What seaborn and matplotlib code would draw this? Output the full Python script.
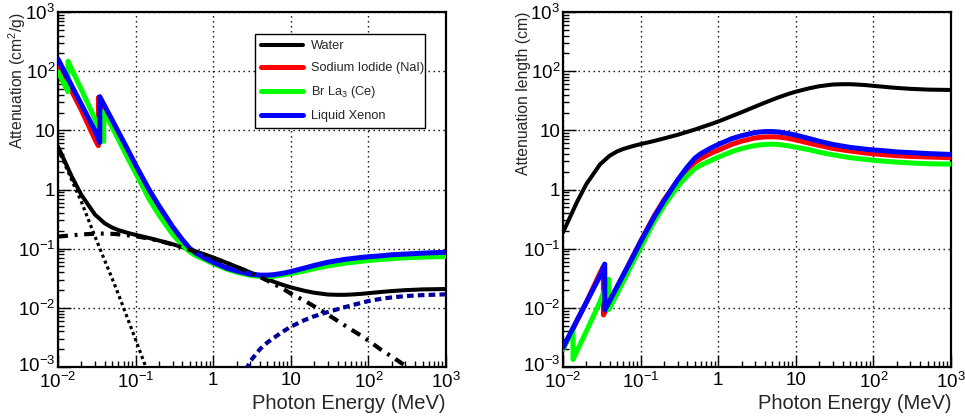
import matplotlib
matplotlib.use("Agg")
import matplotlib.pyplot as plt
import matplotlib.transforms as mtransforms
import seaborn as sns
from matplotlib.ticker import LogLocator, NullFormatter

# ---------------- data ----------------
# Water: total mass attenuation (cm2/g) and attenuation length (cm)
energy_water = [0.01, 0.015, 0.02, 0.03, 0.04, 0.05, 0.06, 0.08, 0.1, 0.15, 0.2, 0.3, 0.4, 0.5,
                0.6, 0.8, 1, 1.25, 1.5, 2, 3, 4, 5, 6, 8, 10, 15, 20, 30, 40, 50, 60, 80, 100,
                150, 200, 300, 500, 1000]
mu_water = [5.33, 1.67, 0.810, 0.376, 0.268, 0.227, 0.206, 0.184, 0.171, 0.151, 0.137, 0.119,
            0.106, 0.0969, 0.0896, 0.0787, 0.0707, 0.0632, 0.0575, 0.0494, 0.0397, 0.0340,
            0.0303, 0.0277, 0.0243, 0.0222, 0.0194, 0.0180, 0.0168, 0.0166, 0.0166, 0.0168,
            0.0172, 0.0177, 0.0186, 0.0192, 0.0199, 0.0205, 0.0208]
len_water = [0.188, 0.599, 1.235, 2.66, 3.73, 4.41, 4.85, 5.43, 5.85, 6.62, 7.30, 8.40, 9.43,
             10.3, 11.2, 12.7, 14.1, 15.8, 17.4, 20.2, 25.2, 29.4, 33.0, 36.1, 41.2, 45.0,
             51.5, 55.6, 59.5, 60.2, 60.2, 59.5, 58.1, 56.5, 53.8, 52.1, 50.3, 48.8, 48.1]

# Water components (left panel)
energy_photo = [0.01, 0.015, 0.02, 0.03, 0.04, 0.05, 0.06, 0.08, 0.1, 0.15, 0.2]
mu_photo_water = [4.9, 1.45, 0.62, 0.16, 0.063, 0.031, 0.017, 0.0063, 0.0029, 0.0007, 0.00026]

energy_compton = [0.01, 0.015, 0.02, 0.03, 0.04, 0.05, 0.06, 0.08, 0.1, 0.15, 0.2, 0.3, 0.5,
                  0.8, 1, 1.5, 2, 3, 4, 5, 6, 8, 10, 15, 20, 30, 50, 80, 100, 150, 200, 300,
                  500, 1000]
mu_compton_water = [0.160, 0.168, 0.174, 0.179, 0.180, 0.178, 0.175, 0.168, 0.162, 0.148,
                    0.136, 0.118, 0.0955, 0.0776, 0.0700, 0.0571, 0.0490, 0.0392, 0.0333,
                    0.0288, 0.0255, 0.0209, 0.0174, 0.0132, 0.0106, 0.0077, 0.0050, 0.0034,
                    0.0028, 0.0019, 0.0015, 0.00105, 0.00068, 0.00036]

energy_pair = [2, 3, 4, 5, 6, 8, 10, 15, 20, 30, 50, 80, 100, 150, 200, 300, 500, 1000]
mu_pair_water = [0.00042, 0.00125, 0.0020, 0.0026, 0.0031, 0.0040, 0.0048, 0.0062, 0.0072,
                 0.0085, 0.0103, 0.0121, 0.0130, 0.0143, 0.0150, 0.0158, 0.0164, 0.0169]

# Sodium iodide
energy_nai = [0.01, 0.015, 0.02, 0.03, 0.0331, 0.0332, 0.04, 0.05, 0.06, 0.08, 0.1, 0.15, 0.2,
              0.3, 0.4, 0.5, 0.6, 0.8, 1, 1.5, 2, 3, 4, 5, 6, 8, 10, 15, 20, 30, 50, 80, 100,
              150, 200, 300, 500, 1000]
mu_nai = [137, 46, 22, 7.0, 5.5, 36, 22, 12.3, 7.7, 3.6, 2.05, 0.76, 0.41, 0.195, 0.124, 0.095,
          0.081, 0.067, 0.059, 0.047, 0.0415, 0.0365, 0.0352, 0.035, 0.0354, 0.0372, 0.0395,
          0.045, 0.049, 0.055, 0.061, 0.066, 0.068, 0.071, 0.073, 0.075, 0.077, 0.079]
len_nai = [0.00199, 0.00592, 0.0124, 0.0389, 0.0495, 0.00757, 0.0124, 0.0222, 0.0354, 0.0757,
           0.133, 0.359, 0.665, 1.40, 2.20, 2.87, 3.36, 4.07, 4.62, 5.80, 6.57, 7.46, 7.74,
           7.78, 7.70, 7.32, 6.90, 6.05, 5.56, 4.95, 4.47, 4.13, 4.01, 3.84, 3.73, 3.63, 3.54,
           3.45]

# LaBr3 (Ce)
energy_labr = [0.01, 0.0134, 0.01348, 0.015, 0.02, 0.03, 0.0388, 0.0389, 0.04, 0.05, 0.06,
               0.08, 0.1, 0.15, 0.2, 0.3, 0.4, 0.5, 0.6, 0.8, 1, 1.5, 2, 3, 4, 5, 6, 8, 10, 15,
               20, 30, 50, 80, 100, 150, 200, 300, 500, 1000]
mu_labr = [98, 45, 147, 108, 49, 15.5, 6.5, 21, 19.6, 11.2, 7.0, 3.3, 1.9, 0.68, 0.37, 0.175,
           0.115, 0.088, 0.076, 0.064, 0.056, 0.045, 0.040, 0.0355, 0.0340, 0.0337, 0.0342,
           0.036, 0.038, 0.042, 0.046, 0.051, 0.057, 0.061, 0.063, 0.066, 0.068, 0.070, 0.072,
           0.0735]
len_labr = [0.00201, 0.00437, 0.00134, 0.00182, 0.00402, 0.0127, 0.0303, 0.00937, 0.0100,
            0.0176, 0.0281, 0.0597, 0.104, 0.290, 0.532, 1.125, 1.71, 2.24, 2.59, 3.08, 3.52,
            4.37, 4.92, 5.55, 5.79, 5.84, 5.76, 5.47, 5.18, 4.69, 4.28, 3.86, 3.45, 3.23, 3.12,
            2.98, 2.90, 2.81, 2.73, 2.68]

# Liquid xenon
energy_xe = [0.01, 0.015, 0.02, 0.03, 0.0345, 0.0346, 0.04, 0.05, 0.06, 0.08, 0.1, 0.15, 0.2,
             0.3, 0.4, 0.5, 0.6, 0.8, 1, 1.5, 2, 3, 4, 5, 6, 8, 10, 15, 20, 30, 50, 80, 100,
             150, 200, 300, 500, 1000]
mu_xe = [160, 57, 27.5, 9.8, 6.2, 37, 25.7, 14.8, 9.4, 4.6, 2.6, 0.98, 0.53, 0.235, 0.142,
         0.101, 0.084, 0.068, 0.059, 0.047, 0.042, 0.037, 0.0357, 0.0357, 0.0363, 0.0385,
         0.041, 0.047, 0.052, 0.059, 0.066, 0.071, 0.073, 0.076, 0.079, 0.081, 0.084, 0.087]
len_xe = [0.00213, 0.00597, 0.0124, 0.0347, 0.0549, 0.00919, 0.0132, 0.0230, 0.0362, 0.0740,
          0.131, 0.347, 0.642, 1.45, 2.40, 3.37, 4.05, 5.00, 5.77, 7.24, 8.10, 9.19, 9.53,
          9.53, 9.37, 8.83, 8.30, 7.24, 6.54, 5.77, 5.15, 4.79, 4.66, 4.48, 4.31, 4.20, 4.05,
          3.91]

series_labels = ["Water", "Sodium Iodide (NaI)", "Br La$_{3}$ (Ce)", "Liquid Xenon"]
series_colors = ["#000000", "#ff0000", "#00ff00", "#0000ff"]

x_tick_values = [1e-2, 1e-1, 1, 10, 1e2, 1e3]
x_tick_labels = ["$10^{-2}$", "$10^{-1}$", "1", "10", "$10^{2}$", "$10^{3}$"]
y_tick_values = [1e-3, 1e-2, 1e-1, 1, 10, 1e2, 1e3]
y_tick_labels = ["$10^{-3}$", "$10^{-2}$", "$10^{-1}$", "1", "10", "$10^{2}$", "$10^{3}$"]

# ---------------- style ----------------
sns.set_theme(style="white")
plt.rcParams["font.family"] = ["Liberation Sans", "DejaVu Sans"]
plt.rcParams["mathtext.fontset"] = "custom"
plt.rcParams["mathtext.rm"] = "Liberation Sans"
plt.rcParams["mathtext.it"] = "Liberation Sans:italic"
plt.rcParams["mathtext.bf"] = "Liberation Sans:bold"
plt.rcParams["mathtext.default"] = "regular"

fig = plt.figure(figsize=(9.65, 4.17), dpi=100, facecolor="white")
axL = fig.add_axes([58 / 965, 50 / 417, 388 / 965, 355 / 417])
axR = fig.add_axes([563 / 965, 50 / 417, 388 / 965, 355 / 417])


def style_axes(ax):
    ax.set_xscale("log")
    ax.set_yscale("log")
    ax.set_xlim(1e-2, 1e3)
    ax.set_ylim(1e-3, 1e3)
    ax.set_facecolor("white")
    ax.set_xticks(x_tick_values, labels=x_tick_labels)
    ax.set_yticks(y_tick_values, labels=y_tick_labels)
    ax.xaxis.set_minor_locator(LogLocator(base=10, subs=range(2, 10), numticks=20))
    ax.yaxis.set_minor_locator(LogLocator(base=10, subs=range(2, 10), numticks=20))
    ax.xaxis.set_minor_formatter(NullFormatter())
    ax.yaxis.set_minor_formatter(NullFormatter())
    ax.tick_params(which="both", direction="in", top=False, right=False, left=True,
                   bottom=True, color="black", width=1.0, labelsize=13.5, labelcolor="black")
    ax.tick_params(which="major", length=9)
    ax.tick_params(which="minor", length=4.5)
    ax.tick_params(axis="x", which="major", pad=3.5)
    ax.tick_params(axis="y", which="major", pad=2)
    for sp in ax.spines.values():
        sp.set_visible(True)
        sp.set_color("black")
        sp.set_linewidth(1.6)
    ax.grid(True, which="major", color="black", linestyle=(0, (1, 2.6)), linewidth=1.0)
    ax.grid(False, which="minor")
    ax.set_axisbelow(True)


# ---------------- left panel: mass attenuation ----------------
left_series = [(energy_water, mu_water), (energy_nai, mu_nai),
               (energy_labr, mu_labr), (energy_xe, mu_xe)]
for i, ((ex, ey), lab, col) in enumerate(zip(left_series, series_labels, series_colors)):
    sns.lineplot(x=ex, y=ey, ax=axL, color=col, linewidth=(2.9 if i == 0 else 3.6),
                 label=lab, estimator=None, sort=False, legend=False, zorder=3 + i)

sns.lineplot(x=energy_photo, y=mu_photo_water, ax=axL, color="black", linewidth=2.3,
             linestyle=(0, (1, 1)), estimator=None, sort=False, legend=False, zorder=8)
sns.lineplot(x=energy_compton, y=mu_compton_water, ax=axL, color="black", linewidth=3.0,
             linestyle=(0, (2.4, 1.6, 0.7, 1.6)), estimator=None, sort=False, legend=False,
             zorder=8)
sns.lineplot(x=energy_pair, y=mu_pair_water, ax=axL, color="#000099", linewidth=3.0,
             linestyle=(0, (1.6, 1.0)), estimator=None, sort=False, legend=False, zorder=8)

style_axes(axL)
axL.set_xlabel("Photon Energy (MeV)", fontsize=14.5, loc="right")
axL.xaxis.set_label_coords(1.0, -0.077)
axL.set_ylabel("Attenuation (cm$^{2}$/g)", fontsize=11.3)
axL.yaxis.set_label_coords(-0.106, 1.0)

handles = axL.get_lines()[:4]
leg = axL.legend(handles, series_labels, loc="upper left",
                 bbox_to_anchor=(0.508, 0.937, 0.438, 0.0), mode="expand",
                 fontsize=9.2, frameon=True, fancybox=False, shadow=False,
                 edgecolor="black", facecolor="white", framealpha=1.0,
                 handlelength=3.3, handletextpad=0.65, labelspacing=0.78,
                 borderpad=0.45, borderaxespad=0.0)
leg.get_frame().set_linewidth(1.0)
leg.set_zorder(20)

# ---------------- right panel: attenuation length ----------------
right_series = [(energy_water, len_water), (energy_nai, len_nai),
                (energy_labr, len_labr), (energy_xe, len_xe)]
for i, ((ex, ey), col) in enumerate(zip(right_series, series_colors)):
    sns.lineplot(x=ex, y=ey, ax=axR, color=col, linewidth=(2.9 if i == 0 else 3.6),
                 estimator=None, sort=False, legend=False, zorder=3 + i)

style_axes(axR)
axR.set_xlabel("Photon Energy (MeV)", fontsize=14.5, loc="right")
axR.xaxis.set_label_coords(1.0, -0.077)
axR.set_ylabel("Attenuation length (cm)", fontsize=11.3)
axR.yaxis.set_label_coords(-0.103, 1.0)

lift = mtransforms.ScaledTranslation(0, 3.0 / 100, fig.dpi_scale_trans)
for ax in (axL, axR):
    lbl = ax.yaxis.label
    lbl.set_rotation(90)
    lbl.set_rotation_mode("default")
    lbl.set_horizontalalignment("center")
    lbl.set_verticalalignment("top")
    # lift the lowest y tick label a little so it clears the first x tick label
    first = ax.yaxis.get_major_ticks()[0].label1
    first.set_transform(first.get_transform() + lift)

fig.savefig("out.png", dpi=100, facecolor="white")
